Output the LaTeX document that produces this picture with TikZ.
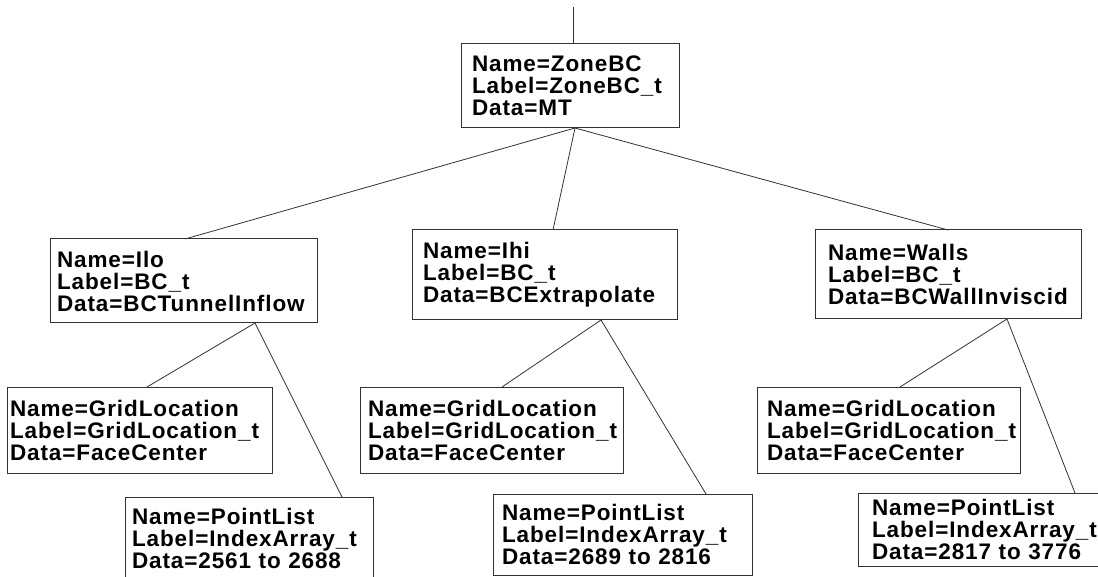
\documentclass[tikz,border=0pt]{standalone}
\usepackage{fontspec}
\setmainfont{Liberation Sans}[LetterSpace=4]
\usetikzlibrary{calc}
\begin{document}
\begin{tikzpicture}[x=1pt,y=-1pt,
  box/.style={draw=black!80, line width=1pt, anchor=north west, align=left,
    inner ysep=0pt, outer sep=0pt, font=\fontsize{22.5}{22}\selectfont\bfseries},
  link/.style={draw=black!80, line width=0.8pt}]
\useasboundingbox (0,0) rectangle (1098,577);
\fill[white] (0,0) rectangle (1098,577);
\clip (0,0) rectangle (1098,577);
% x1,y1, W, H, pad
\node[box, minimum width=218, minimum height=84, inner xsep=11, text width=196] (zone) at (461,44)
  {Name=ZoneBC\\Label=ZoneBC\_t\\Data=MT};
\node[box, minimum width=267, minimum height=84, inner xsep=7, text width=253] (ilo) at (50,239)
  {Name=Ilo\\Label=BC\_t\\Data=BCTunnelInflow};
\node[box, minimum width=265, minimum height=90, inner xsep=11, text width=243] (ihi) at (412,230)
  {Name=Ihi\\Label=BC\_t\\Data=BCExtrapolate};
\node[box, minimum width=266, minimum height=89, inner xsep=13, text width=240] (walls) at (815,230)
  {Name=Walls\\Label=BC\_t\\Data=BCWallInviscid};
\node[box, minimum width=265, minimum height=86, inner xsep=3, text width=259] (gridL) at (7,387)
  {Name=GridLocation\\Label=GridLocation\_t\\Data=FaceCenter};
\node[box, minimum width=263, minimum height=86, inner xsep=8, text width=247] (gridM) at (360,387)
  {Name=GridLocation\\Label=GridLocation\_t\\Data=FaceCenter};
\node[box, minimum width=263, minimum height=86, inner xsep=10, text width=243] (gridR) at (757,387)
  {Name=GridLocation\\Label=GridLocation\_t\\Data=FaceCenter};
\node[box, minimum width=248, minimum height=82, inner xsep=7, text width=234] (plL) at (125,497)
  {Name=PointList\\Label=IndexArray\_t\\Data=2561 to 2688};
\node[box, minimum width=259, minimum height=81, inner xsep=9, text width=241] (plM) at (493,494)
  {Name=PointList\\Label=IndexArray\_t\\Data=2689 to 2816};
\node[box, minimum width=254, minimum height=73, inner xsep=14, text width=226] (plR) at (858,493)
  {Name=PointList\\Label=IndexArray\_t\\Data=2817 to 3776};
\coordinate (top) at (573,7);
\draw[link] (top) -- ([xshift=112pt]zone.north west);
\draw[link] ([xshift=114pt]zone.south west) -- ([xshift=135pt]ilo.north west);
\draw[link] ([xshift=114pt]zone.south west) -- ([xshift=141pt]ihi.north west);
\draw[link] ([xshift=114pt]zone.south west) -- ([xshift=133pt]walls.north west);
\draw[link] ([xshift=205pt]ilo.south west) -- ([xshift=140pt]gridL.north west);
\draw[link] ([xshift=205pt]ilo.south west) -- ([xshift=217pt]plL.north west);
\draw[link] ([xshift=189pt]ihi.south west) -- ([xshift=142pt]gridM.north west);
\draw[link] ([xshift=189pt]ihi.south west) -- ([xshift=213pt]plM.north west);
\draw[link] ([xshift=192pt]walls.south west) -- ([xshift=143pt]gridR.north west);
\draw[link] ([xshift=192pt]walls.south west) -- ([xshift=217pt]plR.north west);
\end{tikzpicture}
\end{document}
